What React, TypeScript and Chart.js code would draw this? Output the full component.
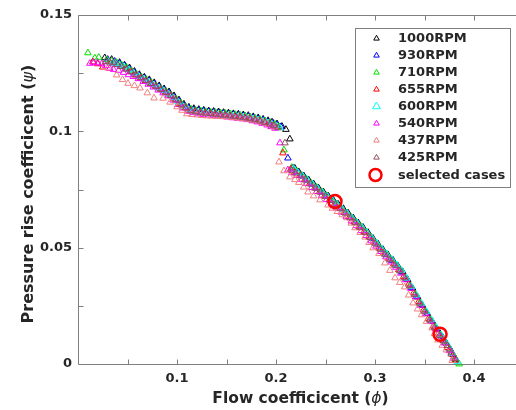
import React, { useEffect, useRef } from "react";
import { Chart, registerables } from "chart.js";

Chart.register(...registerables);

type P = [number, number];

const seriesLabels = ["1000RPM", "930RPM", "710RPM", "655RPM", "600RPM", "540RPM", "437RPM", "425RPM"];
const seriesColors = ["#000000", "#0000ff", "#00e000", "#ff0000", "#00ffff", "#ff00ff", "#f08080", "#93505f"];
const selectedLabel = "selected cases";
const selectedColor = "#ff0000";

const rpm1000: P[] = [
  [0.027, 0.1316], [0.034, 0.1309], [0.042, 0.1296], [0.052, 0.1273], [0.062, 0.1244], [0.072, 0.1222],
  [0.082, 0.1196], [0.092, 0.117], [0.102, 0.1135], [0.112, 0.1104], [0.122, 0.1094], [0.132, 0.1088],
  [0.142, 0.1084], [0.152, 0.1079], [0.162, 0.1074], [0.172, 0.1068], [0.182, 0.1058], [0.192, 0.1046],
  [0.201, 0.1032], [0.21, 0.1008], [0.214, 0.0967], [0.219, 0.0841], [0.228, 0.0809], [0.238, 0.0774],
  [0.248, 0.0739], [0.258, 0.0704], [0.268, 0.0668], [0.278, 0.0628], [0.288, 0.0587], [0.298, 0.054],
  [0.308, 0.0492], [0.318, 0.0447], [0.328, 0.0396], [0.338, 0.0325], [0.348, 0.0251], [0.358, 0.0182],
  [0.368, 0.0117], [0.376, 0.0063], [0.382, 0.0018],
  [0.047, 0.1285], [0.057, 0.1258], [0.067, 0.1233], [0.077, 0.1209], [0.087, 0.1183], [0.097, 0.1153],
  [0.107, 0.1117], [0.117, 0.1098], [0.127, 0.1091], [0.137, 0.1086], [0.147, 0.1081], [0.157, 0.1076],
  [0.167, 0.1071], [0.177, 0.1063], [0.187, 0.1052], [0.196, 0.104], [0.206, 0.1021], [0.223, 0.0826],
  [0.233, 0.0791], [0.243, 0.0756], [0.253, 0.0721], [0.263, 0.0686], [0.273, 0.0648], [0.283, 0.0607],
  [0.293, 0.0565], [0.303, 0.0516], [0.313, 0.047], [0.323, 0.0422], [0.333, 0.0362], [0.343, 0.0288],
  [0.353, 0.0216], [0.363, 0.015], [0.372, 0.009], [0.379, 0.004],
];

const rpm930: P[] = [
  [0.03, 0.1309], [0.037, 0.1301], [0.047, 0.1282], [0.057, 0.1253], [0.067, 0.1229], [0.077, 0.1204],
  [0.087, 0.1179], [0.097, 0.1148], [0.107, 0.1111], [0.117, 0.1093], [0.127, 0.1087], [0.137, 0.1082],
  [0.147, 0.1077], [0.157, 0.1072], [0.167, 0.1067], [0.177, 0.1059], [0.187, 0.1049], [0.197, 0.1035],
  [0.205, 0.102], [0.212, 0.0885], [0.222, 0.0826], [0.232, 0.0791], [0.242, 0.0756], [0.252, 0.0721],
  [0.262, 0.0686], [0.272, 0.0648], [0.282, 0.0607], [0.292, 0.0564], [0.302, 0.0516], [0.312, 0.0469],
  [0.322, 0.0423], [0.332, 0.0366], [0.342, 0.0291], [0.352, 0.0218], [0.362, 0.0151], [0.371, 0.0094],
  [0.38, 0.0031],
  [0.042, 0.1292], [0.052, 0.1268], [0.062, 0.124], [0.072, 0.1217], [0.082, 0.1192], [0.092, 0.1165],
  [0.102, 0.113], [0.112, 0.11], [0.122, 0.109], [0.132, 0.1085], [0.142, 0.108], [0.152, 0.1075],
  [0.162, 0.107], [0.172, 0.1064], [0.182, 0.1054], [0.192, 0.1042], [0.201, 0.1028], [0.217, 0.0843],
  [0.227, 0.0808], [0.237, 0.0773], [0.247, 0.0738], [0.257, 0.0703], [0.267, 0.0667], [0.277, 0.0628],
  [0.287, 0.0586], [0.297, 0.054], [0.307, 0.0492], [0.317, 0.0446], [0.327, 0.0395], [0.337, 0.0328],
  [0.347, 0.0254], [0.357, 0.0184], [0.367, 0.012], [0.376, 0.0062],
];

const rpm710: P[] = [
  [0.01, 0.1337], [0.017, 0.1315], [0.021, 0.1318], [0.029, 0.1308], [0.039, 0.1296], [0.049, 0.1275],
  [0.059, 0.1245], [0.069, 0.1223], [0.079, 0.1196], [0.089, 0.1172], [0.099, 0.1139], [0.109, 0.1104],
  [0.119, 0.109], [0.129, 0.1085], [0.139, 0.1081], [0.149, 0.1077], [0.159, 0.1072], [0.169, 0.1066],
  [0.179, 0.1056], [0.189, 0.1045], [0.199, 0.103], [0.208, 0.092], [0.216, 0.0845], [0.226, 0.0811],
  [0.236, 0.0776], [0.246, 0.0741], [0.256, 0.0706], [0.266, 0.067], [0.276, 0.063], [0.286, 0.059],
  [0.296, 0.0545], [0.306, 0.0496], [0.316, 0.045], [0.326, 0.0401], [0.336, 0.0336], [0.346, 0.0262],
  [0.356, 0.0191], [0.366, 0.0126], [0.375, 0.0065], [0.385, 0.0],
  [0.034, 0.1302], [0.044, 0.1286], [0.054, 0.126], [0.064, 0.1234], [0.074, 0.121], [0.084, 0.1184],
  [0.094, 0.1156], [0.104, 0.1121], [0.114, 0.1096], [0.124, 0.1088], [0.134, 0.1083], [0.144, 0.1079],
  [0.154, 0.1075], [0.164, 0.1069], [0.174, 0.1061], [0.184, 0.1051], [0.194, 0.1038], [0.203, 0.102],
  [0.221, 0.0828], [0.231, 0.0794], [0.241, 0.0759], [0.251, 0.0724], [0.261, 0.0688], [0.271, 0.065],
  [0.281, 0.061], [0.291, 0.0568], [0.301, 0.0521], [0.311, 0.0473], [0.321, 0.0426], [0.331, 0.037],
  [0.341, 0.0299], [0.351, 0.0226], [0.361, 0.0158], [0.37, 0.0098], [0.38, 0.0032],
];

const rpm655: P[] = [
  [0.015, 0.1298], [0.025, 0.1276], [0.033, 0.1292], [0.043, 0.128], [0.053, 0.1256], [0.063, 0.1229],
  [0.073, 0.1206], [0.083, 0.1181], [0.093, 0.1155], [0.103, 0.1118], [0.113, 0.109], [0.123, 0.1081],
  [0.133, 0.1076], [0.143, 0.1071], [0.153, 0.1066], [0.163, 0.1061], [0.173, 0.1055], [0.183, 0.1045],
  [0.193, 0.1032], [0.2, 0.102], [0.207, 0.0907], [0.215, 0.0838], [0.224, 0.081], [0.234, 0.0775],
  [0.244, 0.074], [0.254, 0.0705], [0.264, 0.067], [0.274, 0.0631], [0.284, 0.059], [0.294, 0.0548],
  [0.304, 0.0499], [0.314, 0.0454], [0.324, 0.0405], [0.334, 0.0343], [0.344, 0.0268], [0.354, 0.0196],
  [0.364, 0.013], [0.373, 0.007], [0.381, 0.0016],
  [0.02, 0.129], [0.038, 0.1287], [0.048, 0.1268], [0.058, 0.1242], [0.068, 0.1218], [0.078, 0.1194],
  [0.088, 0.1168], [0.098, 0.1137], [0.108, 0.1102], [0.118, 0.1085], [0.128, 0.1078], [0.138, 0.1073],
  [0.148, 0.1068], [0.158, 0.1063], [0.168, 0.1058], [0.178, 0.105], [0.188, 0.1039], [0.197, 0.1026],
  [0.219, 0.0824], [0.229, 0.0792], [0.239, 0.0757], [0.249, 0.0722], [0.259, 0.0687], [0.269, 0.0651],
  [0.279, 0.0611], [0.289, 0.0569], [0.299, 0.0524], [0.309, 0.0476], [0.319, 0.043], [0.329, 0.0376],
  [0.339, 0.0306], [0.349, 0.0232], [0.359, 0.0163], [0.369, 0.01], [0.377, 0.0043],
];

const rpm600: P[] = [
  [0.031, 0.1297], [0.038, 0.129], [0.046, 0.1278], [0.056, 0.125], [0.066, 0.1225], [0.076, 0.12],
  [0.086, 0.1175], [0.096, 0.1144], [0.106, 0.1107], [0.116, 0.1086], [0.126, 0.1079], [0.136, 0.1074],
  [0.146, 0.1069], [0.156, 0.1065], [0.166, 0.106], [0.176, 0.1053], [0.186, 0.1043], [0.196, 0.103],
  [0.204, 0.1015], [0.218, 0.0838], [0.227, 0.0808], [0.237, 0.0773], [0.247, 0.0738], [0.257, 0.0703],
  [0.267, 0.0666], [0.277, 0.0628], [0.287, 0.0587], [0.297, 0.0542], [0.307, 0.0494], [0.317, 0.045],
  [0.327, 0.0402], [0.337, 0.0332], [0.347, 0.026], [0.357, 0.019], [0.367, 0.0124], [0.374, 0.0079],
  [0.383, 0.0011],
  [0.035, 0.1293], [0.042, 0.1285], [0.051, 0.1265], [0.061, 0.1237], [0.071, 0.1212], [0.081, 0.1187],
  [0.091, 0.116], [0.101, 0.1126], [0.111, 0.1094], [0.121, 0.1082], [0.131, 0.1076], [0.141, 0.1071],
  [0.151, 0.1067], [0.161, 0.1062], [0.171, 0.1057], [0.181, 0.1048], [0.191, 0.1037], [0.2, 0.1023],
  [0.222, 0.0823], [0.232, 0.079], [0.242, 0.0755], [0.252, 0.072], [0.262, 0.0685], [0.272, 0.0647],
  [0.282, 0.0607], [0.292, 0.0565], [0.302, 0.0518], [0.312, 0.0472], [0.322, 0.0426], [0.332, 0.0368],
  [0.342, 0.0296], [0.352, 0.0225], [0.362, 0.0157], [0.37, 0.0102], [0.378, 0.0046],
];

const rpm540: P[] = [
  [0.012, 0.1292], [0.016, 0.1296], [0.024, 0.129], [0.032, 0.127], [0.041, 0.1262], [0.051, 0.1243],
  [0.061, 0.1226], [0.071, 0.1202], [0.081, 0.1177], [0.091, 0.1152], [0.101, 0.1115], [0.111, 0.1086],
  [0.121, 0.1075], [0.131, 0.107], [0.141, 0.1066], [0.151, 0.1061], [0.161, 0.1056], [0.171, 0.105],
  [0.181, 0.104], [0.191, 0.1027], [0.199, 0.1013], [0.204, 0.095], [0.212, 0.0834], [0.221, 0.081],
  [0.231, 0.0776], [0.241, 0.0741], [0.251, 0.0706], [0.261, 0.0671], [0.271, 0.0634], [0.281, 0.0594],
  [0.291, 0.0552], [0.301, 0.0506], [0.311, 0.046], [0.321, 0.0415], [0.331, 0.0362], [0.341, 0.0288],
  [0.351, 0.0216], [0.361, 0.015], [0.37, 0.009], [0.379, 0.0025],
  [0.02, 0.1294], [0.028, 0.1282], [0.036, 0.1266], [0.046, 0.1253], [0.056, 0.1235], [0.066, 0.1214],
  [0.076, 0.119], [0.086, 0.1165], [0.096, 0.1134], [0.106, 0.11], [0.116, 0.108], [0.126, 0.1072],
  [0.136, 0.1068], [0.146, 0.1063], [0.156, 0.1058], [0.166, 0.1053], [0.176, 0.1045], [0.186, 0.1034],
  [0.195, 0.102], [0.216, 0.0822], [0.226, 0.0793], [0.236, 0.0758], [0.246, 0.0723], [0.256, 0.0688],
  [0.266, 0.0652], [0.276, 0.0614], [0.286, 0.0573], [0.296, 0.0529], [0.306, 0.0483], [0.316, 0.0438],
  [0.326, 0.039], [0.336, 0.0325], [0.346, 0.0252], [0.356, 0.0183], [0.366, 0.012], [0.375, 0.0057],
];

const rpm437: P[] = [
  [0.03, 0.1272], [0.039, 0.1242], [0.0505, 0.1206], [0.0626, 0.1186], [0.0768, 0.1143], [0.0859, 0.1142],
  [0.1, 0.1105], [0.11, 0.1075], [0.12, 0.107], [0.13, 0.1066], [0.14, 0.1064], [0.15, 0.1062],
  [0.16, 0.1058], [0.17, 0.1052], [0.18, 0.1045], [0.19, 0.1034], [0.198, 0.1018], [0.203, 0.0868],
  [0.214, 0.0804], [0.223, 0.078], [0.2323, 0.0739], [0.2444, 0.0705], [0.2525, 0.0683], [0.262, 0.0655],
  [0.2717, 0.0628], [0.2798, 0.0585], [0.29, 0.0545], [0.298, 0.0499], [0.304, 0.0475], [0.31, 0.0434],
  [0.3202, 0.037], [0.33, 0.0331], [0.3384, 0.0262], [0.347, 0.0211], [0.3576, 0.0155], [0.3636, 0.0103],
  [0.372, 0.006], [0.378, 0.0015],
  [0.045, 0.1222], [0.057, 0.1196], [0.07, 0.1165], [0.093, 0.1125], [0.105, 0.109], [0.115, 0.1072],
  [0.125, 0.1068], [0.135, 0.1065], [0.145, 0.1063], [0.155, 0.106], [0.165, 0.1055], [0.175, 0.1049],
  [0.185, 0.104], [0.208, 0.083], [0.219, 0.0792], [0.228, 0.076], [0.238, 0.0722], [0.257, 0.0669],
  [0.267, 0.0641], [0.276, 0.0605], [0.285, 0.0565], [0.294, 0.0522], [0.315, 0.0402], [0.325, 0.035],
  [0.334, 0.0296], [0.343, 0.0236], [0.352, 0.0183], [0.36, 0.013], [0.368, 0.008],
];

const rpm425: P[] = [
  [0.028, 0.13], [0.036, 0.1295], [0.044, 0.1278], [0.054, 0.1255], [0.064, 0.123], [0.074, 0.1205],
  [0.084, 0.118], [0.094, 0.1153], [0.104, 0.1113], [0.114, 0.1088], [0.124, 0.108], [0.134, 0.1076],
  [0.144, 0.1071], [0.154, 0.1066], [0.164, 0.1061], [0.174, 0.1054], [0.184, 0.1044], [0.194, 0.1031],
  [0.202, 0.1015], [0.209, 0.095], [0.216, 0.0832], [0.225, 0.0808], [0.235, 0.0773], [0.245, 0.0738],
  [0.255, 0.0703], [0.265, 0.0667], [0.275, 0.0628], [0.285, 0.0587], [0.295, 0.0543], [0.305, 0.0494],
  [0.315, 0.0448], [0.325, 0.04], [0.335, 0.0336], [0.345, 0.0261], [0.355, 0.019], [0.365, 0.0123],
  [0.373, 0.0079], [0.381, 0.0023],
  [0.032, 0.1298], [0.04, 0.1287], [0.049, 0.1267], [0.059, 0.1242], [0.069, 0.1218], [0.079, 0.1193],
  [0.089, 0.1167], [0.099, 0.1134], [0.109, 0.11], [0.119, 0.1084], [0.129, 0.1078], [0.139, 0.1073],
  [0.149, 0.1069], [0.159, 0.1064], [0.169, 0.1058], [0.179, 0.1049], [0.189, 0.1038], [0.198, 0.1024],
  [0.22, 0.082], [0.23, 0.079], [0.24, 0.0755], [0.25, 0.072], [0.26, 0.0685], [0.27, 0.0648],
  [0.28, 0.0608], [0.29, 0.0565], [0.3, 0.0519], [0.31, 0.0471], [0.32, 0.0424], [0.33, 0.037],
  [0.34, 0.0299], [0.35, 0.0226], [0.36, 0.0157], [0.369, 0.01], [0.377, 0.005],
];

const selectedCases: P[] = [[0.2596, 0.0698], [0.3657, 0.0128]];

const seriesData: P[][] = [rpm1000, rpm930, rpm710, rpm655, rpm600, rpm540, rpm437, rpm425];

const xTicks = [0.05, 0.1, 0.15, 0.2, 0.25, 0.3, 0.35, 0.4];
const xTickLabels = ["", "0.1", "", "0.2", "", "0.3", "", "0.4"];
const yTicks = [0, 0.025, 0.05, 0.075, 0.1, 0.125, 0.15];
const yTickLabels = ["0", "", "0.05", "", "0.1", "", "0.15"];

const xTitle = "Flow coefficicent (";
const xTitleSym = "\u03d5";
const yTitle = "Pressure rise coefficicent (";
const yTitleSym = "\u03c8";

const FONT = "'DejaVu Sans', sans-serif";
const AXIS_COLOR = "#7f7f7f";
const TEXT_COLOR = "#262626";

function drawMixed(ctx: CanvasRenderingContext2D, parts: { t: string; f: string }[], cx: number, y: number) {
  let total = 0;
  for (const p of parts) {
    ctx.font = p.f;
    total += ctx.measureText(p.t).width;
  }
  let x = cx - total / 2;
  ctx.textAlign = "left";
  for (const p of parts) {
    ctx.font = p.f;
    ctx.fillText(p.t, x, y);
    x += ctx.measureText(p.t).width;
  }
}

function tri(ctx: CanvasRenderingContext2D, x: number, y: number, r: number) {
  ctx.beginPath();
  ctx.moveTo(x, y - r);
  ctx.lineTo(x + 0.866 * r, y + 0.5 * r);
  ctx.lineTo(x - 0.866 * r, y + 0.5 * r);
  ctx.closePath();
  ctx.stroke();
}

const framePlugin = {
  id: "frame",
  beforeDatasetsDraw(chart: any) {
    const { ctx, chartArea: a, scales } = chart;
    const xs = scales.x;
    const ys = scales.y;
    ctx.save();
    ctx.strokeStyle = AXIS_COLOR;
    ctx.lineWidth = 1;
    const L = Math.round(a.left) + 0.5;
    const T = Math.round(a.top) + 0.5;
    const B = Math.round(a.bottom) + 0.5;
    const R = a.right + 10;
    ctx.beginPath();
    ctx.moveTo(R, T);
    ctx.lineTo(L, T);
    ctx.lineTo(L, B);
    ctx.lineTo(R, B);
    for (const v of xTicks) {
      const px = Math.round(xs.getPixelForValue(v)) + 0.5;
      ctx.moveTo(px, B);
      ctx.lineTo(px, B - 5);
      ctx.moveTo(px, T);
      ctx.lineTo(px, T + 5);
    }
    for (const v of yTicks) {
      const py = Math.round(ys.getPixelForValue(v)) + 0.5;
      ctx.moveTo(L, py);
      ctx.lineTo(L + 5, py);
    }
    ctx.stroke();

    ctx.fillStyle = TEXT_COLOR;
    ctx.textBaseline = "alphabetic";
    drawMixed(
      ctx,
      [
        { t: xTitle, f: `bold 15.5px ${FONT}` },
        { t: xTitleSym, f: `italic 15.5px ${FONT}` },
        { t: ")", f: `bold 15.5px ${FONT}` },
      ],
      300.5,
      403
    );
    ctx.save();
    ctx.translate(33, 194);
    ctx.rotate(-Math.PI / 2);
    drawMixed(
      ctx,
      [
        { t: yTitle, f: `bold 16px ${FONT}` },
        { t: yTitleSym, f: `italic 16px ${FONT}` },
        { t: ")", f: `bold 16px ${FONT}` },
      ],
      0,
      0
    );
    ctx.restore();
    ctx.restore();
  },
  afterDraw(chart: any) {
    const { ctx } = chart;
    ctx.save();
    ctx.fillStyle = "#ffffff";
    ctx.fillRect(355, 28, 156, 160);
    ctx.strokeStyle = AXIS_COLOR;
    ctx.lineWidth = 1;
    ctx.strokeRect(355.5, 28.5, 155, 159);
    ctx.font = `bold 13px ${FONT}`;
    ctx.textAlign = "left";
    ctx.textBaseline = "middle";
    const rows = [38, 55, 72, 89, 106, 123, 140, 157, 175];
    seriesLabels.forEach((lab, i) => {
      ctx.strokeStyle = seriesColors[i];
      ctx.lineWidth = 1;
      tri(ctx, 376.5, rows[i] + 0.5, i === 4 ? 4.5 : 3.2);
      ctx.fillStyle = TEXT_COLOR;
      ctx.fillText(lab, 398, rows[i] + 1);
    });
    ctx.strokeStyle = selectedColor;
    ctx.lineWidth = 2.5;
    ctx.beginPath();
    ctx.arc(375.5, rows[8], 6, 0, Math.PI * 2);
    ctx.stroke();
    ctx.fillStyle = TEXT_COLOR;
    ctx.fillText(selectedLabel, 398, rows[8] + 1);
    ctx.restore();
  },
};

export default function App() {
  const ref = useRef<HTMLCanvasElement | null>(null);
  useEffect(() => {
    if (!ref.current) return;
    const datasets: any[] = seriesData.map((d, i) => ({
      label: seriesLabels[i],
      data: d.map(([x, y]) => ({ x, y })),
      pointStyle: "triangle",
      pointRadius: 3.8,
      pointHoverRadius: 3.8,
      borderWidth: 1,
      borderColor: seriesColors[i],
      backgroundColor: "rgba(0,0,0,0)",
      showLine: false,
      clip: false,
      order: 20 - i,
    }));
    datasets.push({
      label: selectedLabel,
      data: selectedCases.map(([x, y]) => ({ x, y })),
      pointStyle: "circle",
      pointRadius: 6.5,
      pointHoverRadius: 6.5,
      borderWidth: 2.5,
      borderColor: selectedColor,
      backgroundColor: "rgba(0,0,0,0)",
      showLine: false,
      clip: false,
      order: 1,
    });
    const tickFont = { family: FONT, size: 13, weight: "bold" as const };
    const chart = new Chart(ref.current, {
      type: "scatter",
      data: { datasets },
      options: {
        responsive: false,
        animation: false,
        devicePixelRatio: 1,
        layout: { autoPadding: false, padding: { left: 0, right: 0, top: 15, bottom: 0 } },
        plugins: { legend: { display: false }, tooltip: { enabled: false } },
        scales: {
          x: {
            type: "linear",
            min: 0,
            max: 0.4424,
            afterBuildTicks: (s: any) => {
              s.ticks = xTicks.map((v) => ({ value: v }));
            },
            afterFit: (s: any) => {
              s.height = 46;
              s.paddingLeft = 0;
              s.paddingRight = 0;
            },
            grid: { display: false, drawTicks: false },
            border: { display: false },
            ticks: {
              padding: 7,
              color: TEXT_COLOR,
              font: tickFont,
              maxRotation: 0,
              autoSkip: false,
              callback: (v: any) => {
                const i = xTicks.findIndex((t) => Math.abs(t - Number(v)) < 1e-6);
                return i >= 0 ? xTickLabels[i] : "";
              },
            },
          },
          y: {
            type: "linear",
            min: 0,
            max: 0.15,
            afterBuildTicks: (s: any) => {
              s.ticks = yTicks.map((v) => ({ value: v }));
            },
            afterFit: (s: any) => {
              s.width = 78;
              s.paddingTop = 0;
              s.paddingBottom = 0;
            },
            grid: { display: false, drawTicks: false },
            border: { display: false },
            ticks: {
              padding: 6,
              color: TEXT_COLOR,
              font: tickFont,
              autoSkip: false,
              callback: (v: any) => {
                const i = yTicks.findIndex((t) => Math.abs(t - Number(v)) < 1e-6);
                return i >= 0 ? yTickLabels[i] : "";
              },
            },
          },
        },
      },
      plugins: [framePlugin],
    });
    return () => chart.destroy();
  }, []);
  return (
    <div style={{ position: "fixed", left: 0, top: 0, width: 516, height: 410, background: "#fff" }}>
      <canvas ref={ref} width={516} height={410} style={{ display: "block", width: 516, height: 410 }} />
    </div>
  );
}
